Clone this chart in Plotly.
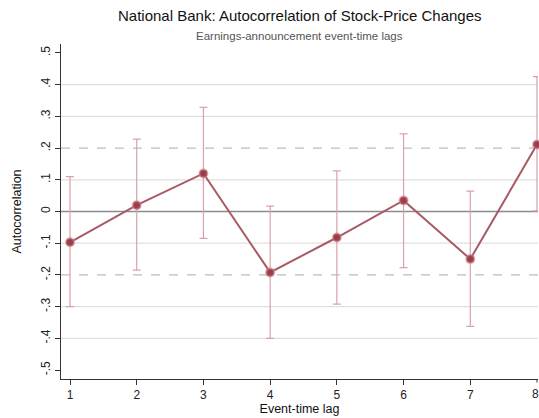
import plotly.graph_objects as go

lags = [1, 2, 3, 4, 5, 6, 7, 8]
autocorr = [-0.097, 0.020, 0.120, -0.192, -0.082, 0.035, -0.150, 0.211]
ci_upper = [0.110, 0.228, 0.328, 0.017, 0.128, 0.245, 0.064, 0.425]
ci_lower = [-0.300, -0.185, -0.085, -0.400, -0.292, -0.177, -0.362, 0.002]
y_ticks = [-0.5, -0.4, -0.3, -0.2, -0.1, 0.0, 0.1, 0.2, 0.3, 0.4, 0.5]
y_ticklabels = ["-.5", "-.4", "-.3", "-.2", "-.1", "0", ".1", ".2", ".3", ".4", ".5"]
light_grid = [-0.4, -0.3, -0.1, 0.1, 0.3, 0.4]
dashed_grid = [-0.2, 0.2]

err_plus = [u - v for u, v in zip(ci_upper, autocorr)]
err_minus = [v - l for v, l in zip(autocorr, ci_lower)]

fig = go.Figure()

shapes = []
for g in light_grid:
    shapes.append(dict(type="line", xref="paper", yref="y", x0=0, x1=1, y0=g, y1=g,
                       line=dict(color="#e0e0e0", width=1.2), layer="below"))
for g in dashed_grid:
    shapes.append(dict(type="line", xref="paper", yref="y", x0=0, x1=1, y0=g, y1=g,
                       line=dict(color="#bdbdbd", width=1.2, dash="dash"), layer="below"))
shapes.append(dict(type="line", xref="paper", yref="y", x0=0, x1=1, y0=0, y1=0,
                   line=dict(color="#8a8a8a", width=1.3), layer="below"))

fig.add_trace(go.Scatter(
    x=lags, y=autocorr, mode="markers",
    marker=dict(size=0.1, color="rgba(0,0,0,0)"),
    error_y=dict(type="data", symmetric=False, array=err_plus, arrayminus=err_minus,
                 color="#d9a2a9", thickness=1.2, width=4),
    showlegend=False, hoverinfo="skip", cliponaxis=False))

fig.add_trace(go.Scatter(
    x=lags, y=autocorr, mode="lines+markers",
    line=dict(color="#a85a64", width=2),
    marker=dict(size=8, color="#9e3d4a", line=dict(color="rgba(200,130,140,0.6)", width=2)),
    showlegend=False, cliponaxis=False))

fig.update_layout(
    width=539, height=418,
    margin=dict(l=61, r=1, t=44, b=39),
    paper_bgcolor="white", plot_bgcolor="white",
    font=dict(family="Liberation Sans, Arial, sans-serif", size=12, color="#222"),
    shapes=shapes,
    annotations=[
        dict(text="National Bank: Autocorrelation of Stock-Price Changes", xref="paper", yref="paper",
             x=0.5, y=1, xanchor="center", yanchor="bottom", yshift=18, showarrow=False,
             font=dict(size=15, color="#111")),
        dict(text="Earnings-announcement event-time lags", xref="paper", yref="paper",
             x=0.5, y=1, xanchor="center", yanchor="bottom", yshift=0, showarrow=False,
             font=dict(size=11.5, color="#555")),
        dict(text="8", xref="x", yref="paper", x=8, y=0, yanchor="top", xanchor="right",
             xshift=4, yshift=-6, showarrow=False, font=dict(size=12, color="#222")),
    ],
    xaxis=dict(range=[0.865, 8.015], tickvals=lags[:-1], ticks="outside", ticklen=5,
               tickcolor="#333", showline=True, linecolor="#333", linewidth=1,
               showgrid=False, zeroline=False, tickfont=dict(size=12, color="#222"),
               title=dict(text="Event-time lag", font=dict(size=12.5, color="#111"), standoff=2)),
    yaxis=dict(range=[-0.528, 0.528], tickvals=y_ticks, ticktext=y_ticklabels, tickangle=-90,
               ticks="outside", ticklen=5, tickcolor="#333", showline=True, linecolor="#333",
               linewidth=1, showgrid=False, zeroline=False, tickfont=dict(size=12, color="#222"),
               title=dict(text="Autocorrelation", font=dict(size=12.5, color="#111"), standoff=14)),
)
# tick mark for lag 8
fig.add_annotation(text="", xref="x", yref="paper", x=8, y=0, ax=0, ay=5,
                   showarrow=True, arrowhead=0, arrowwidth=1, arrowcolor="#333",
                   axref="pixel", ayref="pixel")

fig.write_html("out.html", config={"displayModeBar": False})

with open("out.html", "r", encoding="utf-8") as f:
    html = f.read()
html = html.replace("<head>", "<head><style>html,body{margin:0;padding:0;overflow:hidden;}</style>", 1)
with open("out.html", "w", encoding="utf-8") as f:
    f.write(html)
